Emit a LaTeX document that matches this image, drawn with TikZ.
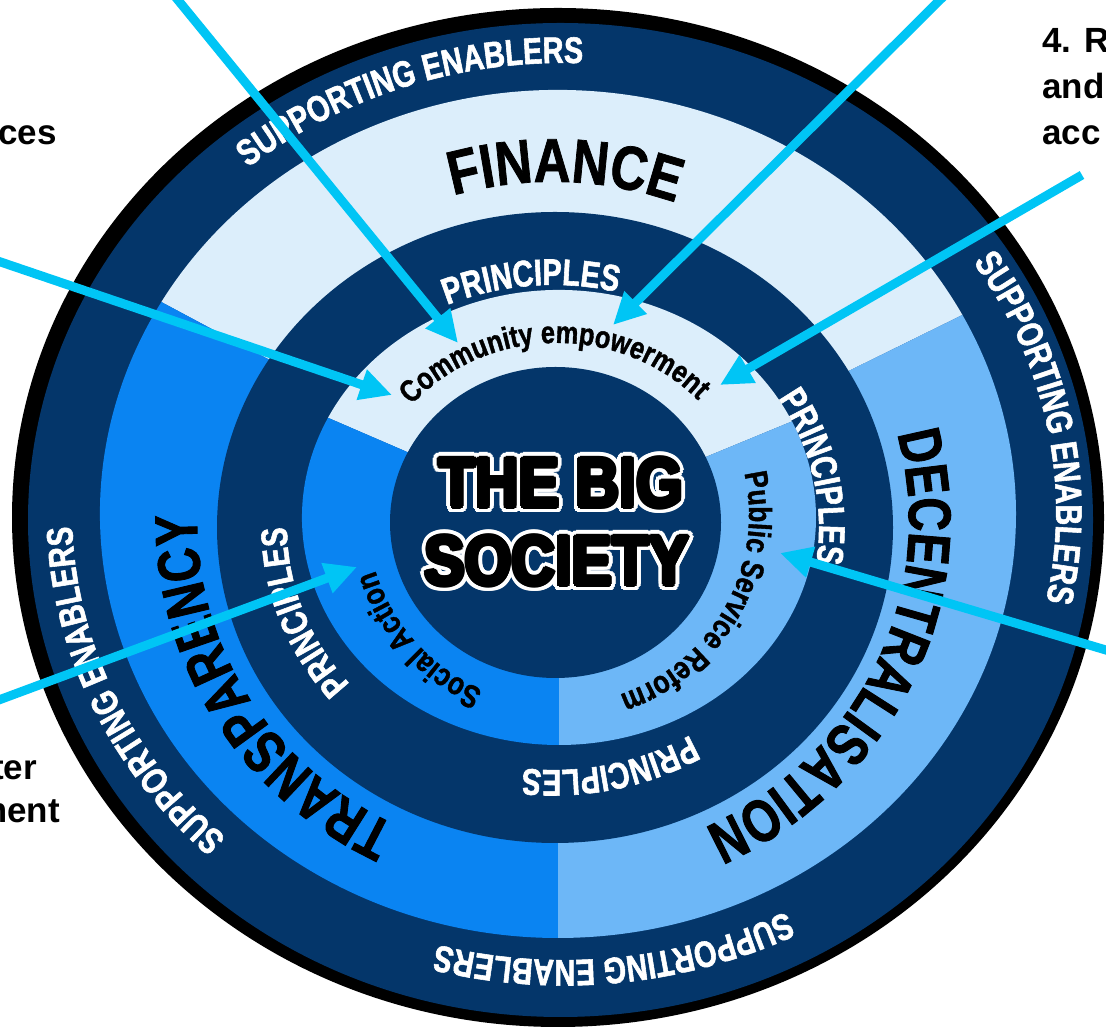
\documentclass[tikz,border=0pt]{standalone}
\usepackage{fontspec}
\setmainfont{Liberation Sans}
\newfontfamily\condfont{Liberation Sans}[FakeStretch=0.78, FakeBold=1.5]
\newfontfamily\semifont{Liberation Sans}[FakeStretch=0.82, FakeBold=1.2]
\usetikzlibrary{decorations.text,arrows.meta,calc}

\definecolor{navy}{HTML}{04366A}
\definecolor{paleblue}{HTML}{DCEEFB}
\definecolor{brightblue}{HTML}{0A84F2}
\definecolor{skyblue}{HTML}{6DB7F7}
\definecolor{arrowcyan}{HTML}{00C5F5}

% filled elliptic sector: colour, centre x, centre y, x radius, y radius, from angle, to angle
\newcommand\sectorfill[7]{\fill[#1] (#2,#3) -- ([shift={(#2,#3)}]#6:#4 and #5) arc[start angle=#6, end angle=#7, x radius=#4, y radius=#5] -- cycle;}
% text set clockwise along an elliptic arc:
% centre x, centre y, x radius, y radius, mid angle, half span, format, text
\newcommand\arclabel[8]{\path[decorate, decoration={text along path, text align=center, text={|#7|#8}}] ([shift={(#1,#2)}]{#5+#6}:#3 and #4) arc[start angle={#5+#6}, end angle={#5-#6}, x radius=#3, y radius=#4];}

\newcommand\enablerfmt{\condfont\bfseries\fontsize{37}{37}\selectfont\color{white}}
\newcommand\principlefmt{\condfont\bfseries\fontsize{37}{37}\selectfont\color{white}}
\newcommand\pillarfmt{\condfont\bfseries\fontsize{60}{60}\selectfont\color{black}}
\newcommand\financefmt{\semifont\bfseries\fontsize{62}{62}\selectfont\color{black}}
\newcommand\strandfmt{\semifont\bfseries\fontsize{32}{32}\selectfont\color{black}}
\newcommand\bigfont{\bfseries\fontsize{70}{70}\selectfont}

\begin{document}
\begin{tikzpicture}[x=1pt,y=1pt,
  pointer/.style={line width=9pt, draw=arrowcyan, -{Triangle[length=32pt,width=30pt]}},
  edgetext/.style={font=\bfseries\fontsize{35}{46}\selectfont, inner sep=0pt},
  halo/.style={text=white, inner sep=0pt, anchor=base, font=\bigfont},
  core/.style={text=black, inner sep=0pt, anchor=base, font=\bigfont}]
\useasboundingbox (0,0) rectangle (1106,1030);
\clip (0,0) rectangle (1106,1030);

% ---- rings ----
\fill[black] (558,512.5) ellipse[x radius=546, y radius=509.5];
\fill[navy] (560.5,510) ellipse[x radius=532.5, y radius=497];
\sectorfill{paleblue}{558}{516}{458}{424}{28}{150}
\sectorfill{brightblue}{558}{516}{458}{424}{150}{270}
\sectorfill{skyblue}{558}{516}{458}{424}{-90}{28}
\fill[navy] (555,502.5) ellipse[x radius=338, y radius=315.5];
\sectorfill{paleblue}{559}{512.5}{257}{227.5}{25}{154}
\sectorfill{brightblue}{559}{512.5}{257}{227.5}{154}{270}
\sectorfill{skyblue}{559}{512.5}{257}{227.5}{-90}{25}
\fill[navy] (555.5,507.5) ellipse[x radius=165.5, y radius=155.5];

% ---- outer band ----
\arclabel{564}{518.5}{492}{448.5}{109.9}{60}{\enablerfmt}{SUPPORTING ENABLERS}
\arclabel{564}{518.5}{492}{448.5}{10.5}{60}{\enablerfmt}{SUPPORTING ENABLERS}
\arclabel{564}{518.5}{492}{448.5}{-83.7}{60}{\enablerfmt}{SUPPORTING ENABLERS}
\arclabel{564}{518.5}{492}{448.5}{-156.9}{60}{\enablerfmt}{SUPPORTING ENABLERS}

% ---- pillars ----
\arclabel{553}{509}{356}{339}{88}{80}{\financefmt}{FINANCE}
\arclabel{553}{509}{356}{339}{-149.5}{80}{\pillarfmt}{TRANSPARENCY}
\arclabel{553}{509}{356}{339}{-24.4}{80}{\pillarfmt}{DECENTRALISATION}

% ---- principles band ----
\arclabel{553}{502.5}{266}{242.5}{95}{60}{\principlefmt}{PRINCIPLES}
\arclabel{553}{502.5}{266}{242.5}{11.2}{60}{\principlefmt}{PRINCIPLES}
\arclabel{553}{502.5}{266}{242.5}{-77}{60}{\principlefmt}{PRINCIPLES}
\arclabel{553}{502.5}{266}{242.5}{-161}{60}{\principlefmt}{PRINCIPLES}

% ---- strands ----
\arclabel{557}{508.5}{192}{178.5}{91}{85}{\semifont\bfseries\fontsize{31}{31}\selectfont\color{black}}{Community empowerment}
\arclabel{557}{515}{190}{190}{-138}{85}{\strandfmt}{Social Action}
\arclabel{557}{515}{192}{190}{-29}{85}{\strandfmt}{Public Service Reform}

% ---- centre title, white rim under heavy black letters ----
\coordinate (titleA) at (561,523);
\coordinate (titleB) at (557,445);
\foreach \ang [count=\k] in {0,15,...,345}{
  \node[halo] (rimA\k) at ($(titleA)+(\ang:6)$) {\scalebox{0.86}[1]{THE BIG}};
  \node[halo] (rimB\k) at ($(titleB)+(\ang:6)$) {\scalebox{0.86}[1]{SOCIETY}};
}
\foreach \ang [count=\k] in {0,30,...,330}{
  \node[core] (boldA\k) at ($(titleA)+(\ang:2.2)$) {\scalebox{0.86}[1]{THE BIG}};
  \node[core] (boldB\k) at ($(titleB)+(\ang:2.2)$) {\scalebox{0.86}[1]{SOCIETY}};
}
\node[core] (titleTop) at (titleA) {\scalebox{0.86}[1]{THE BIG}};
\node[core] (titleBottom) at (titleB) {\scalebox{0.86}[1]{SOCIETY}};

% ---- side labels ----
\node[edgetext, anchor=base east] (labCes) at (57,885) {ces};
\node[edgetext, anchor=base west] (labR) at (1042,977) {4. R};
\node[edgetext, anchor=base west] (labAnd) at (1042,931) {and};
\node[edgetext, anchor=base west] (labAcc) at (1042,885) {acc};
\node[edgetext, anchor=base east] (labTer) at (37,250) {ter};
\node[edgetext, anchor=base east] (labMent) at (60,207) {ment};

% ---- pointers ----
\coordinate (srcA) at (161.6,1050);  \coordinate (tipA) at (458,687);
\coordinate (srcB) at (960,1050);    \coordinate (tipB) at (613,705);
\coordinate (srcC) at (-20,775);     \coordinate (tipC) at (392,635);
\coordinate (srcD) at (1082,855);    \coordinate (tipD) at (720,645);
\coordinate (srcE) at (-20,323);     \coordinate (tipE) at (357,463);
\coordinate (srcF) at (1126,374);    \coordinate (tipF) at (780,477);
\foreach \p in {A,B,C,D,E,F}{\draw[pointer] (src\p) -- (tip\p);}
\end{tikzpicture}
\end{document}
